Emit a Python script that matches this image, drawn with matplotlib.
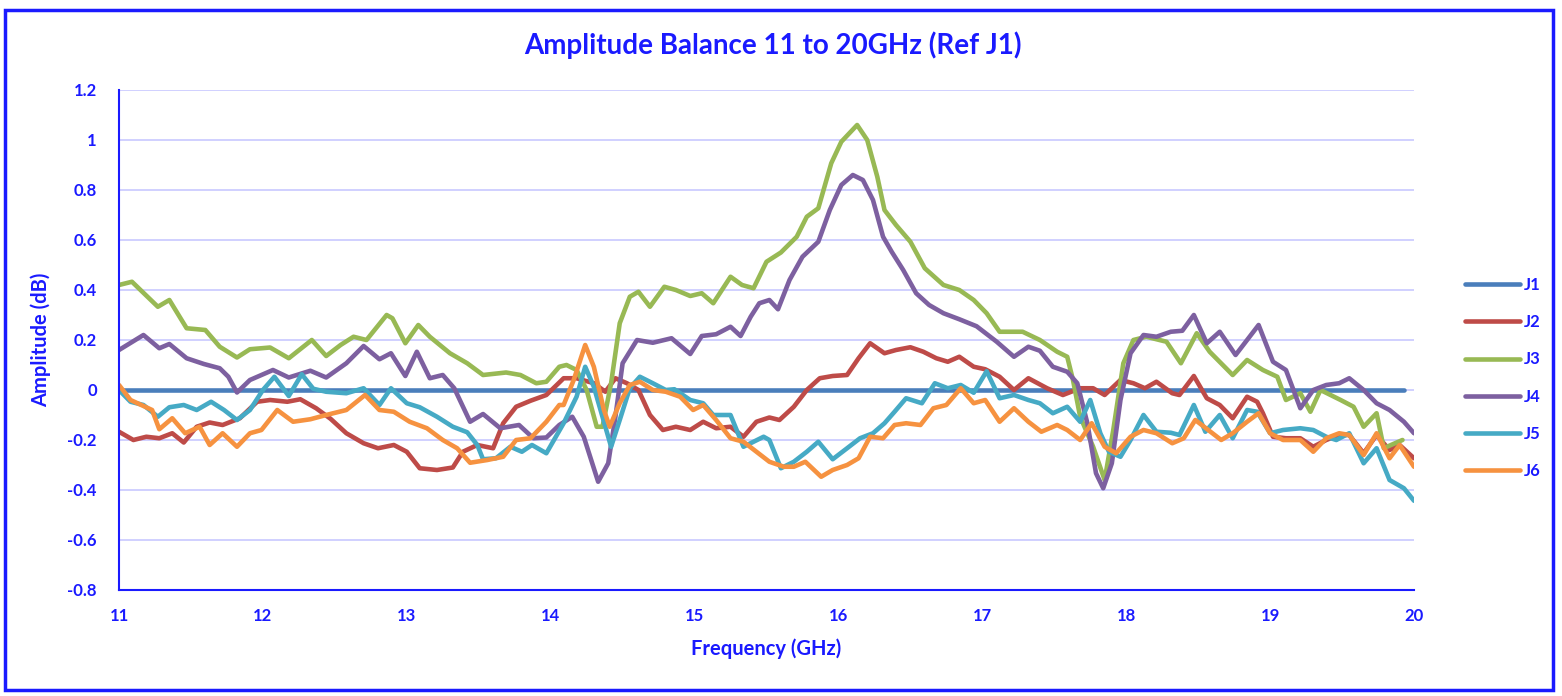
import matplotlib
matplotlib.use("Agg")
import matplotlib.pyplot as plt
from matplotlib.patches import Rectangle

plt.rcParams["font.family"] = ["Lato", "DejaVu Sans"]

BLUE = "#1a1aff"

# J1 is the reference port, flat at 0 dB
j1_freq = [11.0, 19.93]
j1_vals = [0.0, 0.0]

j2_freq = [11.0, 11.1, 11.19, 11.28, 11.37, 11.45, 11.54, 11.63, 11.72, 11.84, 11.96, 12.05, 12.17, 12.26,
           12.37, 12.47, 12.58, 12.7, 12.8, 12.91, 13.0, 13.09, 13.21, 13.32, 13.39, 13.49, 13.6, 13.67,
           13.76, 13.86, 13.97, 14.06, 14.09, 14.18, 14.3, 14.38, 14.45, 14.53, 14.61, 14.69, 14.78, 14.87,
           14.97, 15.06, 15.15, 15.25, 15.34, 15.43, 15.52, 15.59, 15.69, 15.78, 15.87, 15.96, 16.06, 16.14,
           16.22, 16.32, 16.4, 16.5, 16.59, 16.68, 16.76, 16.84, 16.94, 17.02, 17.12, 17.22, 17.32, 17.45,
           17.56, 17.68, 17.77, 17.85, 17.96, 18.05, 18.13, 18.21, 18.32, 18.37, 18.47, 18.56, 18.65, 18.74,
           18.84, 18.91, 18.95, 19.02, 19.11, 19.21, 19.3, 19.39, 19.48, 19.55, 19.65, 19.74, 19.83, 19.9, 20.0]
j2_vals = [-0.167, -0.2, -0.187, -0.193, -0.173, -0.21, -0.147, -0.13, -0.14, -0.113, -0.047, -0.04, -0.047, -0.037,
           -0.073, -0.115, -0.173, -0.213, -0.233, -0.22, -0.247, -0.313, -0.32, -0.31, -0.247, -0.22, -0.233, -0.133,
           -0.067, -0.043, -0.02, 0.03, 0.047, 0.047, 0.027, -0.007, 0.047, 0.027, 0.0, -0.1, -0.16, -0.147,
           -0.16, -0.127, -0.153, -0.147, -0.187, -0.127, -0.11, -0.12, -0.067, 0.0, 0.047, 0.056, 0.06, 0.127,
           0.187, 0.147, 0.16, 0.171, 0.153, 0.127, 0.113, 0.133, 0.093, 0.083, 0.053, 0.0, 0.047, 0.007,
           -0.02, 0.007, 0.007, -0.02, 0.04, 0.027, 0.007, 0.033, -0.013, -0.02, 0.056, -0.033, -0.06, -0.113,
           -0.027, -0.047, -0.093, -0.187, -0.193, -0.193, -0.227, -0.2, -0.18, -0.18, -0.253, -0.18, -0.24, -0.22, -0.273]

j3_freq = [11.0, 11.09, 11.27, 11.35, 11.47, 11.6, 11.7, 11.82, 11.91, 12.05, 12.18, 12.34, 12.44, 12.54,
           12.63, 12.72, 12.86, 12.9, 12.99, 13.08, 13.16, 13.3, 13.42, 13.53, 13.69, 13.79, 13.9, 13.97,
           14.06, 14.11, 14.18, 14.25, 14.32, 14.36, 14.42, 14.48, 14.55, 14.61, 14.69, 14.79, 14.87, 14.97,
           15.05, 15.13, 15.25, 15.33, 15.41, 15.5, 15.6, 15.71, 15.78, 15.86, 15.95, 16.02, 16.13, 16.2,
           16.27, 16.32, 16.4, 16.5, 16.6, 16.73, 16.84, 16.94, 17.03, 17.12, 17.28, 17.4, 17.52, 17.59,
           17.63, 17.68, 17.77, 17.85, 17.91, 17.98, 18.05, 18.14, 18.28, 18.38, 18.49, 18.58, 18.74, 18.84,
           18.95, 19.05, 19.11, 19.21, 19.28, 19.35, 19.49, 19.58, 19.65, 19.74, 19.79, 19.84, 19.92]
j3_vals = [0.42, 0.433, 0.333, 0.36, 0.247, 0.24, 0.173, 0.13, 0.163, 0.17, 0.127, 0.2, 0.136, 0.18,
           0.213, 0.2, 0.3, 0.287, 0.187, 0.26, 0.213, 0.147, 0.107, 0.06, 0.07, 0.06, 0.027, 0.033,
           0.093, 0.1, 0.08, 0.0, -0.147, -0.147, 0.027, 0.267, 0.373, 0.393, 0.333, 0.413, 0.4, 0.376,
           0.387, 0.347, 0.453, 0.42, 0.407, 0.513, 0.55, 0.613, 0.693, 0.727, 0.907, 0.993, 1.06, 1.0,
           0.853, 0.72, 0.66, 0.593, 0.487, 0.42, 0.4, 0.36, 0.307, 0.233, 0.233, 0.2, 0.153, 0.133,
           0.04, -0.107, -0.227, -0.36, -0.16, 0.107, 0.2, 0.213, 0.193, 0.107, 0.227, 0.153, 0.06, 0.12,
           0.08, 0.053, -0.04, -0.013, -0.087, 0.0, -0.04, -0.067, -0.147, -0.093, -0.233, -0.22, -0.2]

j4_freq = [11.0, 11.17, 11.28, 11.35, 11.47, 11.59, 11.7, 11.76, 11.82, 11.91, 12.07, 12.18, 12.33, 12.44,
           12.58, 12.7, 12.81, 12.89, 12.99, 13.07, 13.16, 13.25, 13.33, 13.44, 13.53, 13.65, 13.78, 13.88,
           13.97, 14.06, 14.15, 14.23, 14.33, 14.4, 14.45, 14.5, 14.6, 14.71, 14.84, 14.97, 15.05, 15.15,
           15.25, 15.32, 15.39, 15.45, 15.52, 15.58, 15.66, 15.75, 15.86, 15.94, 16.02, 16.1, 16.17, 16.24,
           16.31, 16.37, 16.45, 16.54, 16.63, 16.73, 16.84, 16.96, 17.1, 17.22, 17.32, 17.4, 17.49, 17.59,
           17.66, 17.73, 17.79, 17.84, 17.9, 17.96, 18.03, 18.12, 18.21, 18.31, 18.39, 18.47, 18.56, 18.65,
           18.76, 18.92, 19.02, 19.11, 19.21, 19.3, 19.39, 19.48, 19.55, 19.65, 19.74, 19.83, 19.93, 20.0]
j4_vals = [0.16, 0.22, 0.167, 0.184, 0.127, 0.104, 0.087, 0.053, -0.01, 0.04, 0.08, 0.05, 0.077, 0.05,
           0.107, 0.176, 0.123, 0.147, 0.056, 0.153, 0.047, 0.06, 0.007, -0.127, -0.096, -0.153, -0.14, -0.193,
           -0.19, -0.14, -0.107, -0.187, -0.367, -0.293, -0.107, 0.107, 0.2, 0.189, 0.207, 0.144, 0.216, 0.223,
           0.253, 0.216, 0.293, 0.347, 0.36, 0.323, 0.44, 0.533, 0.593, 0.72, 0.82, 0.86, 0.84, 0.76,
           0.613, 0.553, 0.48, 0.387, 0.34, 0.307, 0.283, 0.255, 0.193, 0.133, 0.173, 0.157, 0.093, 0.073,
           0.027, -0.133, -0.333, -0.393, -0.293, -0.04, 0.147, 0.22, 0.213, 0.233, 0.237, 0.3, 0.187, 0.233,
           0.14, 0.26, 0.113, 0.08, -0.073, 0.0, 0.02, 0.027, 0.047, 0.0, -0.053, -0.08, -0.127, -0.173]

j5_freq = [11.0, 11.08, 11.17, 11.27, 11.35, 11.45, 11.54, 11.64, 11.73, 11.82, 11.91, 12.0, 12.08, 12.18,
           12.27, 12.35, 12.44, 12.58, 12.7, 12.81, 12.89, 13.0, 13.09, 13.21, 13.32, 13.42, 13.49, 13.53,
           13.62, 13.72, 13.8, 13.87, 13.97, 14.09, 14.18, 14.24, 14.3, 14.37, 14.42, 14.48, 14.55, 14.62,
           14.71, 14.8, 14.86, 14.97, 15.06, 15.13, 15.25, 15.34, 15.48, 15.52, 15.6, 15.69, 15.78, 15.86,
           15.96, 16.06, 16.15, 16.24, 16.32, 16.39, 16.47, 16.58, 16.67, 16.76, 16.85, 16.94, 17.03, 17.12,
           17.22, 17.32, 17.4, 17.49, 17.59, 17.68, 17.75, 17.82, 17.88, 17.96, 18.03, 18.12, 18.21, 18.31,
           18.37, 18.47, 18.55, 18.65, 18.74, 18.84, 18.91, 19.0, 19.09, 19.21, 19.3, 19.39, 19.46, 19.55,
           19.65, 19.74, 19.83, 19.93, 20.0]
j5_vals = [0.0, -0.047, -0.06, -0.107, -0.069, -0.06, -0.08, -0.047, -0.08, -0.12, -0.08, 0.0, 0.053, -0.024,
           0.063, 0.005, -0.007, -0.013, 0.007, -0.06, 0.007, -0.053, -0.069, -0.107, -0.147, -0.169, -0.22, -0.277,
           -0.273, -0.227, -0.247, -0.22, -0.253, -0.133, -0.027, 0.093, 0.013, -0.127, -0.227, -0.12, 0.007, 0.053,
           0.027, 0.0, 0.003, -0.04, -0.053, -0.1, -0.1, -0.227, -0.187, -0.2, -0.313, -0.287, -0.247, -0.207,
           -0.277, -0.233, -0.193, -0.173, -0.133, -0.087, -0.033, -0.053, 0.027, 0.007, 0.02, -0.011, 0.075, -0.033,
           -0.02, -0.04, -0.053, -0.093, -0.067, -0.127, -0.04, -0.173, -0.247, -0.267, -0.2, -0.1, -0.167, -0.171,
           -0.18, -0.06, -0.167, -0.1, -0.193, -0.08, -0.087, -0.173, -0.16, -0.153, -0.16, -0.187, -0.2, -0.173,
           -0.293, -0.233, -0.36, -0.393, -0.443]

j6_freq = [11.0, 11.08, 11.17, 11.23, 11.28, 11.37, 11.46, 11.56, 11.63, 11.72, 11.82, 11.91, 11.99, 12.1,
           12.21, 12.33, 12.44, 12.58, 12.71, 12.81, 12.91, 13.02, 13.14, 13.25, 13.35, 13.44, 13.56, 13.67,
           13.76, 13.86, 13.97, 14.06, 14.09, 14.16, 14.24, 14.3, 14.37, 14.41, 14.48, 14.55, 14.62, 14.71,
           14.8, 14.9, 14.99, 15.06, 15.15, 15.25, 15.34, 15.43, 15.52, 15.62, 15.69, 15.77, 15.88, 15.96,
           16.06, 16.14, 16.22, 16.31, 16.39, 16.47, 16.57, 16.66, 16.75, 16.85, 16.94, 17.02, 17.12, 17.22,
           17.32, 17.41, 17.52, 17.59, 17.68, 17.76, 17.85, 17.93, 18.03, 18.12, 18.21, 18.32, 18.4, 18.48,
           18.57, 18.66, 18.74, 18.84, 18.92, 19.0, 19.09, 19.21, 19.3, 19.39, 19.48, 19.55, 19.65, 19.74,
           19.83, 19.9, 20.0]
j6_vals = [0.02, -0.04, -0.064, -0.08, -0.157, -0.113, -0.173, -0.147, -0.22, -0.173, -0.227, -0.173, -0.16, -0.08,
           -0.127, -0.117, -0.1, -0.08, -0.02, -0.08, -0.087, -0.127, -0.153, -0.2, -0.233, -0.291, -0.28, -0.267,
           -0.2, -0.193, -0.127, -0.06, -0.06, 0.04, 0.18, 0.093, -0.08, -0.147, -0.053, 0.02, 0.033, 0.0,
           -0.007, -0.027, -0.08, -0.06, -0.12, -0.193, -0.207, -0.247, -0.287, -0.307, -0.307, -0.287, -0.347, -0.32,
           -0.3, -0.273, -0.187, -0.193, -0.14, -0.133, -0.14, -0.073, -0.06, 0.007, -0.053, -0.04, -0.127, -0.073,
           -0.127, -0.167, -0.14, -0.16, -0.2, -0.133, -0.227, -0.253, -0.187, -0.16, -0.173, -0.213, -0.193, -0.12,
           -0.16, -0.2, -0.173, -0.127, -0.093, -0.173, -0.2, -0.2, -0.247, -0.193, -0.173, -0.18, -0.26, -0.173,
           -0.273, -0.22, -0.307]

series = [
    ("J1", j1_freq, j1_vals, "#4A7EBB"),
    ("J2", j2_freq, j2_vals, "#BE4B48"),
    ("J3", j3_freq, j3_vals, "#98B954"),
    ("J4", j4_freq, j4_vals, "#7D60A0"),
    ("J5", j5_freq, j5_vals, "#46AAC5"),
    ("J6", j6_freq, j6_vals, "#F69240"),
]

fig = plt.figure(figsize=(15.62, 6.96), dpi=100)
ax = fig.add_axes([119 / 1562, 106 / 696, 1295 / 1562, 500 / 696])

for name, f, v, c in series:
    ax.plot(f, v, color=c, lw=3.3, label=name, solid_capstyle="round", solid_joinstyle="round")

ax.set_xlim(11, 20)
ax.set_ylim(-0.8, 1.2)
ax.set_xticks(range(11, 21))
ax.set_yticks([1.2, 1.0, 0.8, 0.6, 0.4, 0.2, 0, -0.2, -0.4, -0.6, -0.8])
ax.set_yticklabels(["1.2", "1", "0.8", "0.6", "0.4", "0.2", "0", "-0.2", "-0.4", "-0.6", "-0.8"])
ax.grid(axis="y", color="#c8c8ff", lw=1.2)
ax.set_axisbelow(True)
for s in ["top", "right"]:
    ax.spines[s].set_visible(False)
for s in ["left", "bottom"]:
    ax.spines[s].set_color(BLUE)
    ax.spines[s].set_linewidth(1.5)
ax.tick_params(length=0, colors=BLUE, labelsize=12)
ax.tick_params(axis="x", pad=13)
ax.tick_params(axis="y", pad=16)
for lbl in ax.get_xticklabels() + ax.get_yticklabels():
    lbl.set_fontweight("bold")

ax.set_xlabel("Frequency (GHz)", color=BLUE, fontsize=14.5, fontweight="bold", labelpad=10)
ax.set_ylabel("Amplitude (dB)", color=BLUE, fontsize=14.5, fontweight="bold", labelpad=12)
fig.text(773 / 1562, 1 - 45 / 696, "Amplitude Balance 11 to 20GHz (Ref J1)", color=BLUE,
         fontsize=20, fontweight="bold", ha="center", va="center")

leg = fig.legend(loc="center left", bbox_to_anchor=(1450 / 1562, 1 - 378 / 696), frameon=False,
                 prop={"size": 12, "weight": "bold"}, labelcolor=BLUE, handlelength=3.3,
                 handletextpad=0.25, labelspacing=1.27)

# chart frame
fig.patches.append(Rectangle((5 / 1562, 6 / 696), 1548 / 1562, 680 / 696, transform=fig.transFigure,
                             fill=False, edgecolor=BLUE, lw=2.5))

fig.savefig("out.png", dpi=100)
